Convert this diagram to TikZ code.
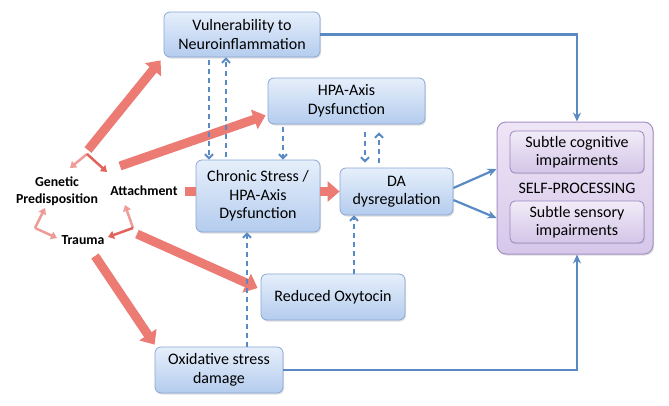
\documentclass[tikz,border=0pt]{standalone}
\usepackage{fontspec}
\setmainfont{Carlito}
\usetikzlibrary{arrows.meta,shadows,calc}
\definecolor{boxtop}{HTML}{E6EFFB}
\definecolor{boxbot}{HTML}{B4CCEE}
\definecolor{boxborder}{HTML}{8AA8D4}
\definecolor{ptop}{HTML}{EEE6F6}
\definecolor{pbot}{HTML}{D6C7EA}
\definecolor{pborder}{HTML}{A690C8}
\definecolor{itop}{HTML}{F1ECF8}
\definecolor{ibot}{HTML}{D3C5E7}
\definecolor{iborder}{HTML}{9A86C0}
\definecolor{bluel}{HTML}{5A8AC4}
\definecolor{redf}{HTML}{EC7B74}
\definecolor{redd}{HTML}{E0645C}
\definecolor{redl}{HTML}{EE9C98}
\begin{document}
\begin{tikzpicture}[x=1pt,y=-1pt,
  bx/.style={draw=boxborder, line width=0.8pt, rounded corners=6pt, top color=boxtop, bottom color=boxbot,
    align=center, font=\fontsize{16}{18.5}\selectfont, inner sep=2pt,
    drop shadow={shadow xshift=1pt, shadow yshift=-1.5pt, opacity=0.25}},
  selfbox/.style={draw=pborder, line width=1pt, rounded corners=9pt, top color=ptop, bottom color=pbot,
    drop shadow={shadow xshift=1pt, shadow yshift=-1.5pt, opacity=0.25}},
  inbx/.style={draw=iborder, line width=0.8pt, rounded corners=5pt, top color=itop, bottom color=ibot,
    align=center, font=\fontsize{16}{18.5}\selectfont, inner sep=2pt, minimum width=134pt, minimum height=42pt,
    drop shadow={shadow xshift=0.8pt, shadow yshift=-1.2pt, opacity=0.2}},
  lbl/.style={align=center, font=\bfseries\fontsize{13.8}{17}\selectfont, inner sep=1pt},
  fat/.style={draw=redf, line width=9pt, -{Triangle[length=12pt,width=20pt]}},
  fatline/.style={draw=redf, line width=9pt},
  thinr/.style={draw=redd, line width=2.5pt, -{Triangle[length=6pt,width=8pt]}},
  thinl/.style={draw=redl, line width=2.5pt, -{Triangle[length=6pt,width=8pt]}},
  bl/.style={draw=bluel, line width=2.2pt, -{Stealth[length=9pt,width=8pt]}},
  dsh/.style={draw=bluel, line width=2pt, dash pattern=on 5pt off 4pt, -{Straight Barb[length=4pt,width=8pt]}}
]
\useasboundingbox[fill=white] (0,0) rectangle (669,405);

% boxes
\node[bx, minimum width=156pt, minimum height=45pt] (vul) at (242,34.5) {Vulnerability to\\Neuroinflammation};
\node[bx, minimum width=157pt, minimum height=46pt] (hpa) at (346.5,101) {HPA-Axis\\Dysfunction};
\node[bx, minimum width=124pt, minimum height=72pt] (chr) at (258,196) {Chronic Stress /\\HPA-Axis\\Dysfunction};
\node[bx, minimum width=113pt, minimum height=47pt] (da) at (396.5,191.5) {DA\\dysregulation};
\node[bx, minimum width=144pt, minimum height=46pt] (oxy) at (333,297) {Reduced Oxytocin};
\node[bx, minimum width=128pt, minimum height=46pt] (oxi) at (219,370) {Oxidative stress\\damage};

\node[selfbox, minimum width=156pt, minimum height=132pt] (self) at (575,188) {};
\node[inbx] (cog) at (577,152) {Subtle cognitive\\impairments};
\node[font=\fontsize{16}{18.5}\selectfont, inner sep=1pt] (sp) at (577,188) {SELF-PROCESSING};
\node[inbx] (sen) at (577,222) {Subtle sensory\\impairments};

% labels
\node[lbl] (gen) at (57,191) {Genetic\\Predisposition};
\node[lbl] (att) at (144,191) {Attachment};
\node[lbl] (tra) at (83,240) {Trauma};

% coordinates
\coordinate (fork) at (88,150);
\coordinate (attup) at (120,166);
\coordinate (trar) at (137,234);
\coordinate (trad) at (95,256);
\coordinate (f1) at (87,154);
\coordinate (gt) at (35,228);
\coordinate (at) at (133,228);

% red fat arrows
\draw[fat] (fork) -- ($(vul.south west)+(-3,3)$);
\draw[fat] (attup) -- ($(hpa.south west)+(-2,-9)$);
\draw[fatline] ([xshift=6pt]att.east |- da.west) -- (da.west -| chr.west);
\draw[fat] (da.west -| chr.east) -- (da.west);
\draw[fat] (trar) -- ($(oxy.west)+(-3,-9)$);
\draw[fat] (trad) -- ($(oxi.north west)+(0,-2)$);

% small red arrows
\draw[thinl] (f1) -- (70,168);
\draw[thinr] (f1) -- (107,172);
\draw[thinl] (gt) -- (45,208);
\draw[thinl] (gt) -- (57,238);
\draw[thinl] (at) -- (125,205);
\draw[thinr] (at) -- (108,237);

% blue solid
\draw[bl] (vul.east) -| ([xshift=2pt]self.north);
\draw[bl] (oxi.east) -| ([xshift=2pt]self.south);
\draw[bl] ([yshift=3.5pt]da.east) -- ([yshift=19pt]self.west);
\draw[bl] ([yshift=-8.5pt]da.east) -- ([yshift=-30pt]self.west);

% blue dashed
\draw[dsh, shorten <=3pt] (209,0 |- vul.south) -- (209,0 |- chr.north);
\draw[dsh, shorten <=3pt] (226,0 |- chr.north) -- (226,0 |- vul.south);
\draw[dsh, shorten <=3pt] (283,0 |- hpa.south) -- (283,0 |- chr.north);
\draw[dsh, shorten <=8pt, shorten >=5pt] (365,0 |- hpa.south) -- (365,0 |- da.north);
\draw[dsh, shorten <=5pt, shorten >=8pt] (379,0 |- da.north) -- (379,0 |- hpa.south);
\draw[dsh] (247,0 |- oxi.north) -- (247,0 |- chr.south);
\draw[dsh] (354,0 |- oxy.north) -- (354,0 |- da.south);
\end{tikzpicture}
\end{document}
